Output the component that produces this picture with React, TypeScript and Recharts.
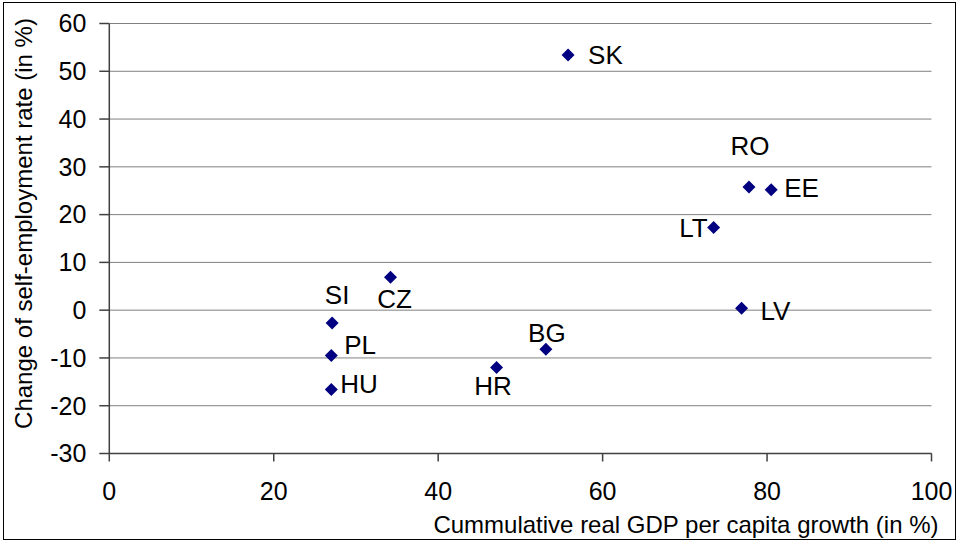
import React from "react";
import {
  CartesianGrid,
  Label,
  Scatter,
  ScatterChart,
  XAxis,
  YAxis,
} from "recharts";

const COUNTRIES = ["SK", "RO", "EE", "LT", "LV", "CZ", "SI", "PL", "HU", "HR", "BG"];
const GDP_GROWTH = [55.8, 77.8, 80.5, 73.5, 76.9, 34.2, 27.1, 27.0, 27.0, 47.1, 53.1];
const SELF_EMP_CHANGE = [53.4, 25.8, 25.2, 17.3, 0.4, 6.9, -2.7, -9.5, -16.6, -12.0, -8.2];

const X_TICKS = [0, 20, 40, 60, 80, 100];
const Y_TICKS = [-30, -20, -10, 0, 10, 20, 30, 40, 50, 60];

const X_TITLE = "Cummulative real GDP per capita growth (in %)";
const Y_TITLE = "Change of self-employment rate (in %)";

// where each country's name sits relative to its marker
const LABEL_PLACEMENT: Record<string, { dx: number; dy: number; anchor: "start" | "middle" | "end" }> = {
  SK: { dx: 20, dy: 0, anchor: "start" },
  RO: { dx: 1, dy: -41, anchor: "middle" },
  EE: { dx: 13, dy: -2, anchor: "start" },
  LT: { dx: -6, dy: 0, anchor: "end" },
  LV: { dx: 19, dy: 2, anchor: "start" },
  CZ: { dx: 4, dy: 21, anchor: "middle" },
  SI: { dx: 5, dy: -28, anchor: "middle" },
  PL: { dx: 13, dy: -11, anchor: "start" },
  HU: { dx: 9, dy: -6, anchor: "start" },
  HR: { dx: -3.5, dy: 18, anchor: "middle" },
  BG: { dx: 1, dy: -17, anchor: "middle" },
};

const FONT = "'Liberation Sans', Arial, sans-serif";
const MARKER = "#000080";
const AXIS = "#404040";

const points = COUNTRIES.map((name, i) => ({
  name,
  x: GDP_GROWTH[i],
  y: SELF_EMP_CHANGE[i],
}));

function DiamondWithLabel(props: any) {
  const { cx, cy, payload } = props;
  const r = 6.5;
  const place = LABEL_PLACEMENT[payload.name];
  return (
    <g>
      <polygon
        points={`${cx},${cy - r} ${cx + r},${cy} ${cx},${cy + r} ${cx - r},${cy}`}
        fill={MARKER}
      />
      <text
        x={cx + place.dx}
        y={cy + place.dy}
        dy="0.36em"
        textAnchor={place.anchor}
        fontSize={26}
        fill="#000"
        fontFamily={FONT}
      >
        {payload.name}
      </text>
    </g>
  );
}

function renderXTitle(props: any) {
  const { viewBox } = props;
  return (
    <text
      x={viewBox.x + viewBox.width + 7}
      y={533}
      textAnchor="end"
      fontSize={24}
      fill="#000"
      fontFamily={FONT}
    >
      {X_TITLE}
    </text>
  );
}

function renderYTitle() {
  const x = 32;
  const y = 223.5;
  return (
    <text
      x={x}
      y={y}
      transform={`rotate(-90, ${x}, ${y})`}
      textAnchor="middle"
      fontSize={24}
      fill="#000"
      fontFamily={FONT}
    >
      {Y_TITLE}
    </text>
  );
}

export default function App() {
  return (
    <div
      style={{
        position: "absolute",
        left: 0,
        top: 0,
        width: 957,
        height: 544,
        background: "#fff",
        fontFamily: FONT,
      }}
    >
      <div
        style={{
          position: "absolute",
          left: 3,
          top: 2,
          width: 953,
          height: 538,
          border: "1px solid #000",
          boxSizing: "border-box",
        }}
      />
      <ScatterChart
        width={957}
        height={544}
        margin={{ top: 23.5, right: 25.5, bottom: 30.5, left: 0 }}
        style={{ position: "absolute", left: 0, top: 0 }}
      >
        <CartesianGrid horizontal vertical={false} stroke="#808080" strokeWidth={1} />
        <XAxis
          type="number"
          dataKey="x"
          domain={[0, 100]}
          ticks={X_TICKS}
          interval={0}
          height={60}
          tickSize={8}
          tickMargin={21}
          stroke={AXIS}
          strokeWidth={1.5}
          tick={{ fill: "#000", fontSize: 25, fontFamily: FONT }}
        >
          <Label content={renderXTitle} />
        </XAxis>
        <YAxis
          type="number"
          dataKey="y"
          domain={[-30, 60]}
          ticks={Y_TICKS}
          interval={0}
          width={109.3}
          tickSize={10}
          tickMargin={13}
          stroke={AXIS}
          strokeWidth={1.5}
          tick={{ fill: "#000", fontSize: 25, fontFamily: FONT }}
        >
          <Label content={renderYTitle} />
        </YAxis>
        <Scatter data={points} shape={DiamondWithLabel} isAnimationActive={false} />
      </ScatterChart>
    </div>
  );
}
